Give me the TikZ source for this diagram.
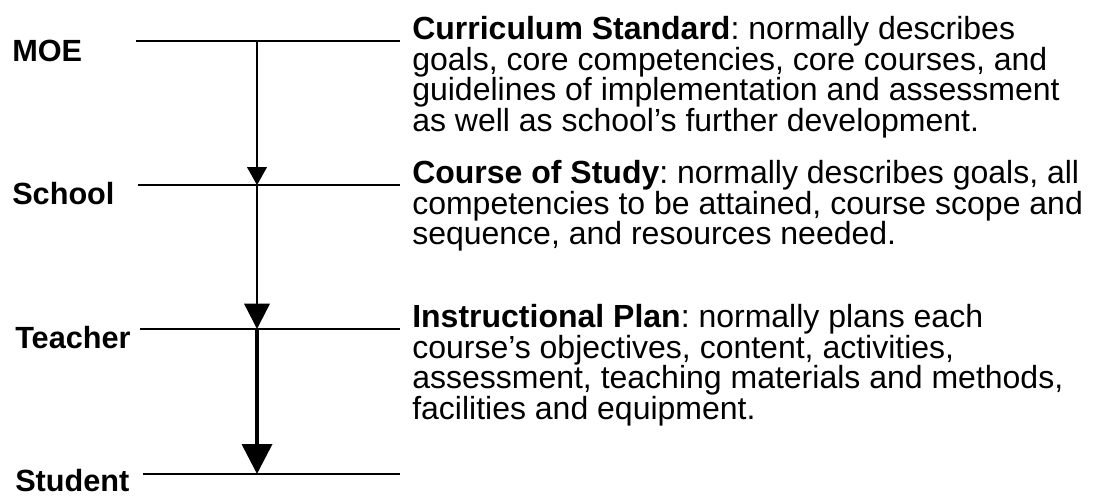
\documentclass[tikz,border=0pt]{standalone}
\usepackage{fontspec}
\setmainfont{Liberation Sans}
\usetikzlibrary{arrows.meta}
\tikzset{
  lvl/.style={anchor=base west, inner sep=0pt, font=\fontsize{23}{27}\selectfont\bfseries},
  desc/.style={anchor=north west, inner sep=0pt, align=left, font=\fontsize{24}{23}\selectfont\frenchspacing},
  rung/.style={line width=1.1pt},
}
\begin{document}
\begin{tikzpicture}[x=0.75pt,y=-0.75pt]
\useasboundingbox (0,0) rectangle (1095,496);
% levels
\node[lvl] (moe) at (12,61) {MOE};
\node[lvl] (school) at (12,204) {School};
\node[lvl] (teacher) at (15,348) {Teacher};
\node[lvl] (student) at (15,491) {Student};
% rungs
\foreach \y/\xl in {41/136,185/138,329/140,474/143}
	\draw[rung] (\xl,\y) -- (400,\y);
% arrows
\coordinate (a0) at (257,41);
\coordinate (a1) at (257,185);
\coordinate (a2) at (257,329);
\coordinate (a3) at (257,474);
\draw[line width=0.8pt,-{Triangle[length=13.5pt,width=15pt]}] (a0) -- (a1);
\draw[line width=1.8pt,-{Triangle[length=19pt,width=19pt]}] (a1) -- (a2);
\draw[line width=2.8pt,-{Triangle[length=22.5pt,width=22.5pt]}] (a2) -- (a3);
% descriptions
\node[desc] (cs) at (412,16) {\textbf{Curriculum Standard}: normally describes\\
goals, core competencies, core courses, and\\
guidelines of implementation and assessment\\
as well as school's further development.};
\node[desc] (cos) at (412,160) {\textbf{Course of Study}: normally describes goals, all\\
competencies to be attained, course scope and\\
sequence, and resources needed.};
\node[desc] (ip) at (412,304) {\textbf{Instructional Plan}: normally plans each\\
course's objectives, content, activities,\\
assessment, teaching materials and methods,\\
facilities and equipment.};
\end{tikzpicture}
\end{document}
